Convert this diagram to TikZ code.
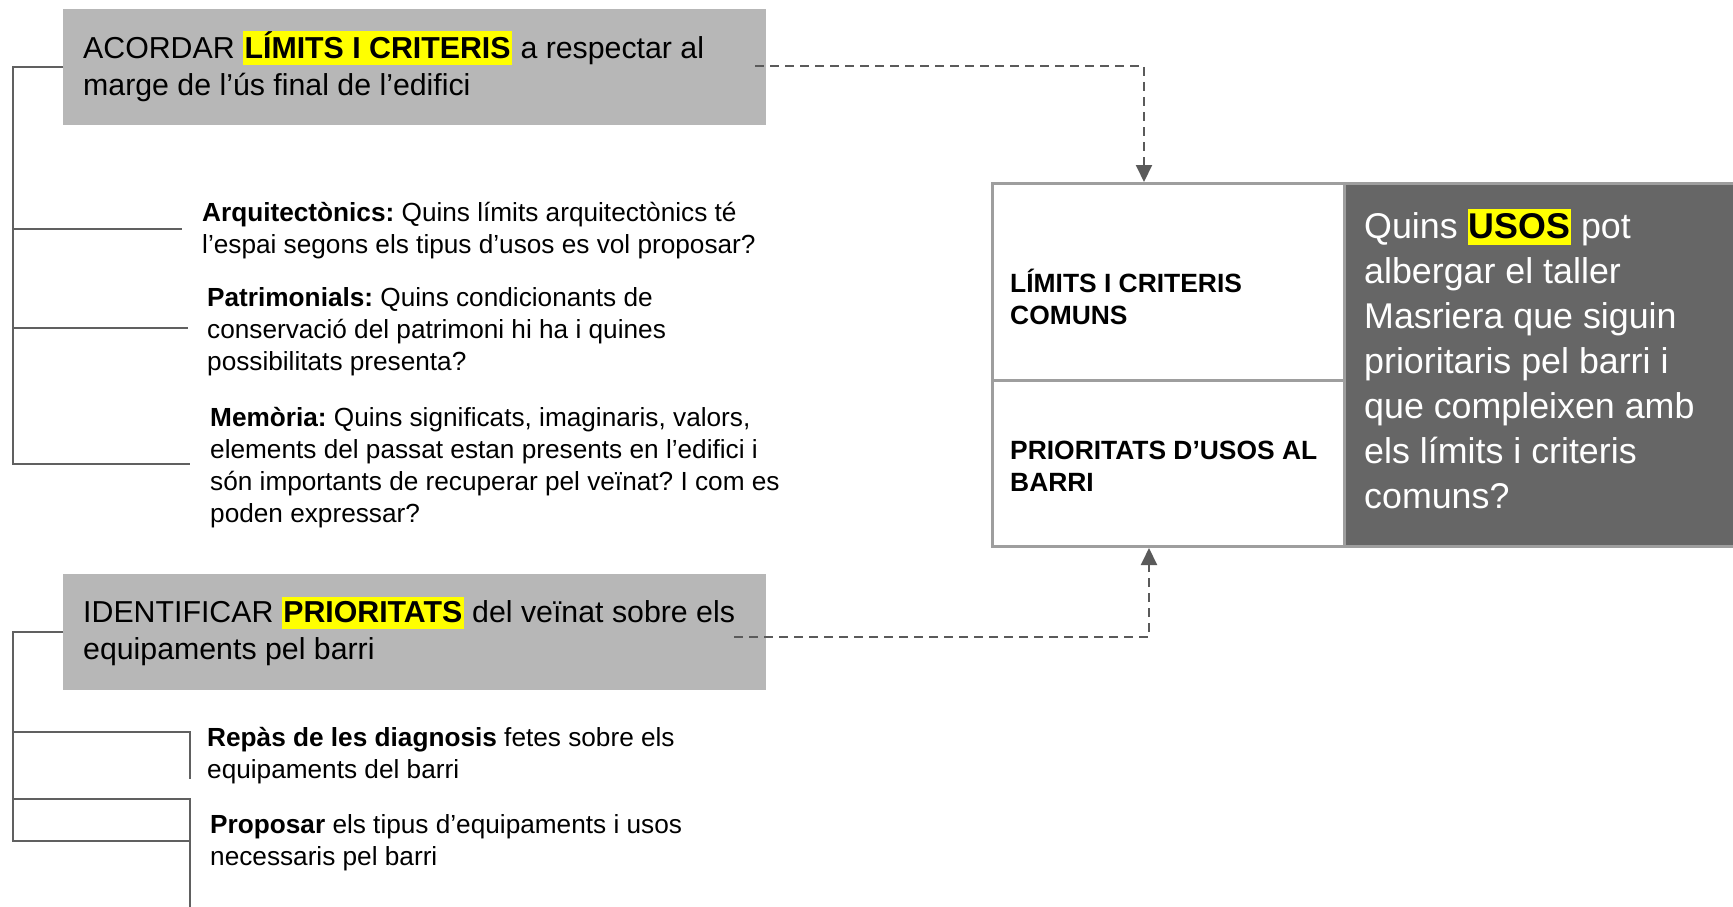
\documentclass[tikz,border=0pt]{standalone}
\usepackage{fontspec}
\setmainfont{Liberation Sans}
\usetikzlibrary{arrows.meta}
\definecolor{boxgray}{HTML}{B7B7B7}
\definecolor{darkbox}{HTML}{666666}
\definecolor{linegray}{HTML}{606060}
\definecolor{dashgray}{HTML}{5A5A5A}
\definecolor{bordergray}{HTML}{9E9E9E}
\definecolor{hly}{HTML}{FFFF00}
\newcommand{\hlt}[1]{{\setlength{\fboxsep}{0pt}\colorbox{hly}{\rule[-0.24em]{0pt}{1.08em}\hspace{1.5pt}\textbf{#1}\hspace{1.5pt}}}}
\newcommand{\tp}{\rule{0pt}{1.1em}}
\frenchspacing
\begin{document}
\begin{tikzpicture}[x=1pt,y=-1pt,
  graybox/.style={fill=boxgray, draw=none, inner sep=0pt, anchor=north west, minimum width=703pt, minimum height=116pt},
  txt/.style={inner sep=0pt, anchor=north west, align=left, text=black},
  headtxt/.style={txt, font=\fontsize{30.3}{37.5}\selectfont},
  subtxt/.style={txt, font=\fontsize{26.2}{32}\selectfont},
  celltxt/.style={txt, font=\fontsize{26.4}{32}\selectfont\bfseries},
  bigtxt/.style={txt, text=white, font=\fontsize{35.8}{45}\selectfont},
  cell/.style={draw=bordergray, line width=3pt, fill=white, inner sep=0pt, anchor=north west},
  darkcell/.style={draw=bordergray, line width=3pt, fill=darkbox, inner sep=0pt, anchor=north west},
  br/.style={draw=linegray, line width=2pt},
  dashconn/.style={draw=dashgray, line width=2pt, dash pattern=on 9pt off 6pt,
     -{Triangle[width=16pt,length=17pt]}}
]
\useasboundingbox (0,0) rectangle (1733,907);

% gray header boxes
\node[graybox] (h1box) at (63,9) {};
\node[graybox] (h2box) at (63,574) {};
\node[headtxt] (h1t) at (83,24.5) {\tp ACORDAR \hlt{LÍMITS I CRITERIS} a respectar al\\marge de l’ús final de l’edifici};
\node[headtxt] (h2t) at (83,588.5) {\tp IDENTIFICAR \hlt{PRIORITATS} del veïnat sobre els\\equipaments pel barri};

% sub items
\node[subtxt] (arq) at (202,192) {\tp\textbf{Arquitectònics:} Quins límits arquitectònics té\\l’espai segons els tipus d’usos es vol proposar?};
\node[subtxt] (pat) at (207,277) {\tp\textbf{Patrimonials:} Quins condicionants de\\conservació del patrimoni hi ha i quines\\possibilitats presenta?};
\node[subtxt] (mem) at (210,397) {\tp\textbf{Memòria:} Quins significats, imaginaris, valors,\\elements del passat estan presents en l’edifici i\\són importants de recuperar pel veïnat? I com es\\poden expressar?};
\node[subtxt] (rep) at (207,717) {\tp\textbf{Repàs de les diagnosis} fetes sobre els\\equipaments del barri};
\node[subtxt] (pro) at (210,804) {\tp\textbf{Proposar} els tipus d’equipaments i usos\\necessaris pel barri};

% right boxes
\node[darkcell, minimum width=400pt, minimum height=363pt] (usos) at (1343,182) {};
\node[cell, minimum width=352pt, minimum height=197pt] (lim) at (991,182) {};
\node[cell, minimum width=352pt, minimum height=166pt] (pri) at (991,379) {};
\node[celltxt] (limt) at (1010,263) {\tp LÍMITS I CRITERIS\\COMUNS};
\node[celltxt] (prit) at (1010,430) {\tp PRIORITATS D’USOS AL\\BARRI};
\node[bigtxt] (usost) at (1364,198.5) {\tp Quins {\setlength{\fboxsep}{0pt}\colorbox{hly}{\rule[-0.2em]{0pt}{1.0em}\hspace{1pt}\textcolor{black}{\textbf{USOS}}\hspace{1pt}}} pot\\albergar el taller\\Masriera que siguin\\prioritaris pel barri i\\que compleixen amb\\els límits i criteris\\comuns?};

% brackets (top)
\coordinate (t0) at (13,464);
\coordinate (ta) at (182,229);
\coordinate (tb) at (188,328);
\coordinate (tc) at (190,464);
\draw[br] (h1box.west) -| (t0) -- (tc);
\draw[br] (ta -| t0) -- (ta);
\draw[br] (tb -| t0) -- (tb);

% brackets (bottom)
\coordinate (b0) at (13,841);
\coordinate (ba) at (190,732);
\coordinate (ba2) at (190,779);
\coordinate (bb) at (190,799);
\coordinate (bb2) at (190,907);
\coordinate (bc) at (190,841);
\draw[br] (h2box.west) -| (b0) -- (bc);
\draw[br] (ba -| b0) -- (ba) -- (ba2);
\draw[br] (bb -| b0) -- (bb) -- (bb2);

% dashed connectors
\coordinate (d1s) at (755,66);
\coordinate (d1c) at (1144,66);
\draw[dashconn] (d1s) -- (d1c) -- (d1c |- lim.north);
\coordinate (d2s) at (734,637);
\coordinate (d2c) at (1149,637);
\draw[dashconn] (d2s) -- (d2c) -- (d2c |- pri.south);
\end{tikzpicture}
\end{document}
